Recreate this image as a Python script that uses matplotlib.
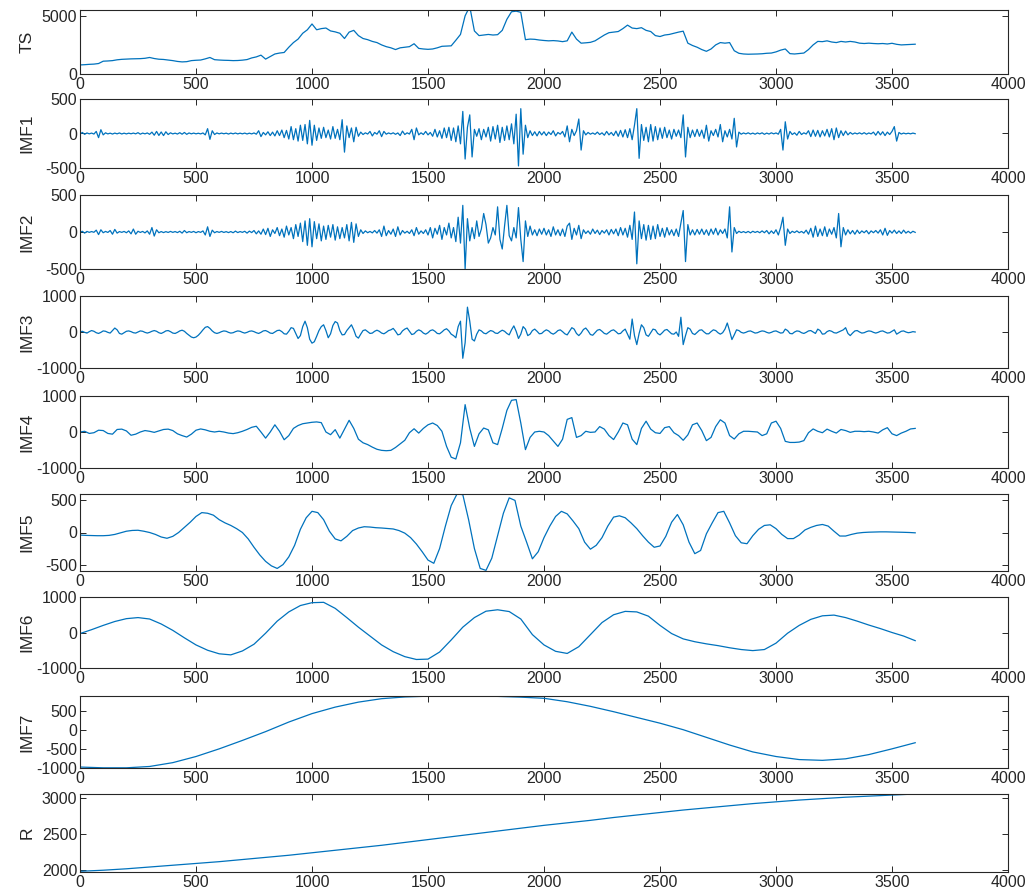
import numpy as np
import matplotlib.pyplot as plt

# --- original series and its decomposition (values sampled along t) ---
ts = [780, 800, 830, 850, 900, 1100, 1120, 1150, 1220, 1260,
      1280, 1300, 1310, 1320, 1350, 1420, 1330, 1270, 1250, 1200,
      1150, 1080, 1040, 1060, 1150, 1180, 1200, 1300, 1420, 1230,
      1200, 1180, 1170, 1150, 1160, 1190, 1240, 1380, 1470, 1620,
      1280, 1500, 1720, 1800, 1850, 2300, 2700, 3000, 3500, 3800,
      4300, 3800, 3900, 3950, 3700, 3620, 3500, 3050, 3600, 3750,
      3300, 3050, 2950, 2800, 2700, 2500, 2350, 2250, 2100, 2250,
      2300, 2350, 2600, 2200, 2150, 2120, 2150, 2250, 2380, 2400,
      2420, 2900, 3400, 5000, 5800, 3700, 3300, 3350, 3400, 3350,
      3380, 3750, 4700, 5350, 5400, 5300, 2950, 3000, 2980, 2920,
      2880, 2850, 2870, 2840, 2780, 2850, 3600, 3000, 2650, 2680,
      2720, 2850, 3100, 3350, 3550, 3600, 3650, 3900, 4200, 3950,
      3900, 3980, 3750, 3650, 3300, 3220, 3350, 3400, 3500, 3600,
      3680, 2650, 2450, 2300, 2100, 1950, 2150, 2500, 2700, 2650,
      2700, 2000, 1780, 1720, 1700, 1710, 1720, 1740, 1780, 1800,
      1900, 2050, 2150, 1750, 1720, 1760, 1800, 2100, 2500, 2800,
      2780, 2850, 2750, 2700, 2800, 2750, 2800, 2750, 2650, 2620,
      2650, 2620, 2600, 2620, 2580, 2640, 2550, 2500, 2520, 2540,
      2560]

imf1 = [-10, 15, -12, 8, -5, 6, -8, 30, -60, 55, -20, 10, -6, 5, -8, 6, -5, 8, -7, 5,
        -6, 5, -4, 6, -5, 12, -10, 6, -5, 8, -12, 20, -25, 30, -28, 22, -30, 25, -15, 10,
        -6, 5, -8, 12, -10, 15, -12, 8, -5, 6, -5, 4, -6, 8, -20, 70, -85, 40, -15, 8,
        -5, 6, -4, 5, -8, 6, -5, 7, -6, 5, -5, 6, -7, 5, -6, 8, -10, 40, -45, 15,
        -20, 25, -30, 20, -35, 40, -30, 50, -60, 45, -80, 100, -90, 70, -110, 120, -100, 130, -150, 190,
        -170, 120, -100, 80, -70, 90, -60, 50, -80, 100, -70, 60, -90, 200, -270, 110, -60, 80, -120, 90,
        -40, 20, -15, 10, -8, 30, -35, 15, -10, 40, -45, 30, -10, 8, -6, 10, -12, 8, -30, 35,
        -15, 10, -8, 60, -90, 80, -20, 10, -15, 30, -20, 15, -40, 60, -50, 40, -70, 80, -60, 90,
        -100, 80, -120, 110, -150, 320, -370, 90, 270, -340, 60, -40, 70, -90, 60, -50, 90, -110, 100, -80,
        120, -130, 90, -100, 110, -90, 140, -150, 280, -470, 360, -300, 120, -60, 40, -30, 25, -35, 30, -20,
        25, -30, 20, -15, 40, -35, 15, -10, 30, -50, 110, -120, 60, -30, 40, 210, -240, 40, -20, 15,
        -10, 8, -12, 20, -15, 10, -25, 30, -20, 15, -30, 35, -40, 45, -50, 55, -60, 70, -90, 120,
        360, -360, 130, -100, 90, -120, 130, -110, 100, -90, 80, -70, 90, -60, 50, -80, 60, -40, 50, -60,
        270, -340, 90, -60, 50, -45, 60, -40, 50, -70, 120, -110, 40, -30, 60, -50, 130, -120, 40, -50,
        60, -80, 220, -195, 20, -10, 8, -6, 10, -8, 6, -10, 8, -6, 10, -12, 6, -8, 10, -5,
        8, -10, 60, -240, 170, -80, 30, -15, 10, -25, 30, -15, 10, -8, 40, -45, 50, -40, 45, -50,
        40, -35, 60, -50, 70, -90, 80, -60, 40, -30, 35, -20, 15, -10, 8, -6, 10, -8, 12, -10,
        8, -6, 20, -25, 30, -20, 25, -30, 20, -15, 30, 100, -110, 15, -8, 6, -5, 4, -5, 6,
        -3]

imf2 = [-5, 10, -15, 8, -5, 6, -4, 25, -35, 30, -10, 8, -6, 20, -30, 35, -15, 6, -5, 8,
        -10, 15, -25, 40, -30, 10, -6, 8, -12, 15, -30, 60, -55, 30, -10, 6, -8, 5, -6, 8,
        -5, 6, -8, 10, -15, 20, -10, 6, -5, 8, -10, 6, -5, 15, -40, 70, -60, 25, -10, 6,
        -5, 8, -6, 5, -8, 6, -10, 12, -8, 6, -5, 10, -15, 12, -8, 20, -25, 15, -30, 40,
        -35, 50, -60, 30, -20, 60, -50, 40, -70, 80, -40, 60, -90, 100, -60, 120, -130, 150, -180, 180,
        -200, 140, -90, 110, -120, 80, -100, 90, -70, 100, -110, 70, -90, 60, -80, 100, -120, 130, -140, 110,
        -60, 30, -20, 15, -10, 8, -12, 20, -15, 30, -60, 80, -50, 20, -30, 40, -60, 70, -40, 20,
        -15, 10, -20, 30, -50, 60, -30, 15, -20, 30, -40, 60, -80, 50, -30, 90, -100, 60, -40, 120,
        -80, 60, -130, 200, -150, 360, -500, 180, -120, 60, -90, 150, -60, 40, 250, 100, -150, -80, 60, -40,
        340, -100, -230, 80, 360, -50, -120, 60, -80, 330, -100, -400, 150, -60, 80, -40, 30, -50, 40, -30,
        50, -40, 30, -60, 70, -40, 30, -50, 40, -60, 80, 120, -100, 50, -40, 90, -90, 30, -20, 15,
        -30, 40, -20, 25, -35, 20, -15, 30, -40, 35, -25, 40, -50, 60, -40, 50, -70, 90, -100, 270,
        -430, 150, -90, 100, -110, 90, -100, 80, -90, 100, -60, 50, -70, 60, -40, 30, -50, 40, -60, 120,
        290, -400, 100, -40, 30, -40, 35, -30, 40, -35, 30, -45, 40, -30, 50, -40, 30, -20, 40, -80,
        340, -270, 60, -20, 10, -8, 6, -10, 8, -12, 10, -6, 8, -10, 15, -10, 20, -25, 15, -20,
        30, -40, 60, 200, -180, 40, -20, 10, -8, 15, -10, 8, -15, 25, -30, 50, -70, 80, -60, 40,
        -50, 70, -60, 40, -30, 60, -80, 250, -200, 60, -40, 30, -25, 20, -30, 25, -20, 15, -10, 20,
        -25, 15, -10, 20, -15, 30, -40, 50, -45, 20, -15, 25, -20, 15, -20, 25, -15, 10, -15, 10,
        -5]

imf3 = [0, 20, -10, -30, 10, 40, 20, -20, -40, -10, 30, 20, -10, -30, 40, 110, 60, -40, -60, -20,
        20, 30, 10, -20, -30, 0, 30, 20, -10, -30, -10, 20, 40, 20, -20, -40, -10, 30, 40, 10,
        -30, -40, -10, 30, 50, 20, -40, -90, -140, -160, -140, -90, -20, 60, 130, 150, 100, 30, -20, -40,
        -20, 10, 30, 20, -10, -30, -20, 10, 30, 20, -10, -30, -10, 20, 30, 10, -20, -40, -10, 30,
        40, 10, -30, -40, 0, 40, 50, 10, -50, -60, 20, 120, 100, -40, -180, -100, 150, 300, 120, -200,
        -310, -270, -120, 40, 150, 200, 40, -160, -50, 180, 290, 250, 40, -80, -70, 40, 120, 200, 60, -120,
        -170, -60, 40, 60, 10, -40, -30, 20, 50, 20, -30, -50, -10, 40, 60, 100, 20, -80, -60, 30,
        80, 110, 20, -70, -50, 20, 60, 30, -30, -60, -20, 40, 60, 20, -40, -50, 0, 60, 90, 30,
        -60, -100, -160, 150, 300, -730, -300, 690, 300, -200, -250, -60, 60, 30, -30, -50, 0, 40, 20, -30,
        -40, 10, 50, 20, -40, -80, 60, 170, 20, -180, -60, 150, 80, -100, -60, 40, 80, 20, -50, -40,
        20, 60, 30, -30, -60, -20, 40, 60, 10, -50, -80, 20, 120, 80, -40, -100, -30, 70, 110, 30,
        -70, -90, -20, 50, 70, 20, -40, -60, -10, 40, 60, 10, -50, -40, 30, 80, -60, -200, 360, -100,
        -350, -40, 200, 120, -80, -120, -20, 80, 60, -40, -80, -20, 50, 70, 10, -50, -60, 0, -120, 410,
        -350, -100, 120, 80, -40, -70, -10, 50, 60, 0, -50, -50, 10, 60, 40, -20, -60, -20, 80, 250,
        30, -210, -80, 60, 40, -10, -30, -10, 20, 30, 0, -30, -20, 10, 30, 20, -10, -30, -10, 20,
        30, 0, -30, -20, 80, 40, -40, -50, 0, 30, 20, -20, -40, -10, 30, 40, 0, -40, 80, 40,
        -60, -50, 10, 40, 20, -20, -30, 0, 30, 60, 120, -40, -100, -30, 30, 40, 0, -30, -20, 10,
        30, 20, -10, -30, -10, 20, 30, 0, -30, -20, 20, 60, -60, -20, 20, 30, 0, -20, -10, 10,
        0]

imf4 = [0, 20, -40, -20, 50, 40, -40, -60, 70, 80, 30, -90, -60, 0, 40, 20, -10, 30, 70, 80,
        40, -50, -100, -140, -60, 50, 85, 60, 20, 0, 20, 0, -30, -45, -20, 20, 70, 130, 160, 0,
        -170, 0, 200, 20, -215, -100, 100, 180, 230, 250, 270, 280, 260, 0, -75, 65, -170, 80, 325, 100,
        -200, -300, -350, -420, -480, -510, -520, -510, -430, -330, -230, -20, 90, -30, 100, 200, 250, 180, 20, -400,
        -700, -750, -300, 760, 100, -400, -50, 110, 60, -300, -350, 100, 600, 880, 900, 250, -490, -150, 0, 20,
        0, -100, -250, -400, -200, 350, 400, -150, -100, 20, -10, 0, 150, 80, -100, -210, 0, 250, 200, -200,
        -350, 100, 300, 80, -20, -40, 120, 150, -20, -100, -230, -80, 200, 250, 40, -240, -150, 150, 340, 250,
        -100, -195, -50, 20, 20, 10, 0, -100, -50, 250, 300, 100, -260, -290, -290, -280, -240, -20, 85, 20,
        -20, 80, 20, -30, 70, 40, -10, 20, 20, 10, 20, 0, -30, 60, 120, -50, -100, -30, 20, 85,
        100]

imf5 = [-40, -45, -48, -50, -50, -45, -30, -5,
        20, 32, 35, 20, 0, -30, -70, -90,
        -60, 0, 80, 160, 250, 310, 300, 270,
        200, 150, 110, 60, 0, -100, -230, -350,
        -450, -520, -560, -500, -380, -200, 50, 230,
        330, 310, 200, 20, -100, -130, -60, 30,
        70, 90, 85, 75, 70, 62, 55, 30,
        -10, -80, -180, -300, -430, -480, -250, 100,
        420, 600, 590, 200, -250, -560, -590, -400,
        -50, 300, 540, 500, 100, -150, -410, -300,
        -80, 100, 250, 330, 290, 180, 60, -150,
        -260, -200, -80, 100, 240, 260, 230, 150,
        60, -50, -150, -230, -210, -60, 160, 280,
        120, -150, -330, -280, -20, 150, 310, 330,
        150, -50, -160, -175, -50, 50, 110, 120,
        60, -30, -95, -95, -40, 40, 80, 110,
        125, 100, 20, -55, -55, -30, -10, 0,
        5, 8, 10, 10, 8, 5, 3, 0,
        -5]

imf6 = [-30, 80, 200, 310, 390, 420, 380, 240, 60, -150,
        -350, -500, -600, -630, -520, -330, -20, 320, 580, 760,
        840, 850, 680, 420, 150, -100, -350, -540, -680, -760,
        -750, -550, -210, 150, 420, 600, 640, 590, 380, -60,
        -350, -530, -590, -400, -60, 280, 500, 595, 580, 460,
        200, -30, -180, -260, -320, -370, -430, -480, -510, -480,
        -300, -20, 200, 370, 470, 490, 420, 320, 210, 110,
        0, -100, -230]

imf7 = [-975, -995, -995, -960, -860, -700, -500, -280, -50, 200,
        420, 590, 720, 810, 855, 875, 880, 878, 870, 850,
        820, 730, 610, 470, 320, 170, 0, -200, -400, -580,
        -700, -780, -800, -760, -650, -500, -340]

resid = [1975, 1990, 2010, 2035, 2060, 2085, 2110, 2140, 2170, 2200,
         2235, 2270, 2305, 2340, 2380, 2420, 2460, 2500, 2540, 2580,
         2620, 2655, 2690, 2730, 2765, 2800, 2835, 2865, 2895, 2925,
         2950, 2975, 2995, 3015, 3030, 3045, 3060]

# sample spacing of each stored series
steps = [20, 10, 10, 10, 20, 25, 50, 100, 100]
names = ['TS', 'IMF1', 'IMF2', 'IMF3', 'IMF4', 'IMF5', 'IMF6', 'IMF7', 'R']
series = [ts, imf1, imf2, imf3, imf4, imf5, imf6, imf7, resid]
ylims = [(0, 5500), (-500, 500), (-500, 500), (-1000, 1000), (-1000, 1000),
         (-600, 600), (-1000, 1000), (-1000, 880), (1965, 3060)]
yticks = [[0, 5000], [-500, 0, 500], [-500, 0, 500], [-1000, 0, 1000],
          [-1000, 0, 1000], [-500, 0, 500], [-1000, 0, 1000],
          [-1000, -500, 0, 500], [2000, 2500, 3000]]

# panel top/bottom in pixels
boxes = [(10, 74), (99, 168), (195, 269), (296, 368), (396, 468),
         (494, 571), (597, 668), (696, 768), (794, 872)]

plt.rcParams['font.family'] = ['Liberation Sans', 'DejaVu Sans']
plt.rcParams['axes.unicode_minus'] = False

W, H = 1036, 896
fig = plt.figure(figsize=(W / 100, H / 100), dpi=100)
left, right = 80, 1008

for name, y, step, yl, yt, (top, bot) in zip(names, series, steps, ylims, yticks, boxes):
    ax = fig.add_axes([left / W, 1 - bot / H, (right - left) / W, (bot - top) / H])
    t = np.arange(len(y)) * step
    ax.plot(t, y, color='#0072BD', lw=0.9)
    ax.set_xlim(0, 4000)
    ax.set_ylim(*yl)
    ax.set_xticks(np.arange(0, 4001, 500))
    ax.set_yticks(yt)
    ax.tick_params(direction='in', top=True, right=True, length=4.5, width=0.7,
                   labelsize=11.5, pad=2, colors='#262626')
    for s in ax.spines.values():
        s.set_linewidth(0.8)
        s.set_color('#262626')
    ax.set_ylabel(name, fontsize=12.5, color='#262626')
    ax.yaxis.set_label_coords(-0.049, 0.5)

fig.savefig('out.png', dpi=100)
